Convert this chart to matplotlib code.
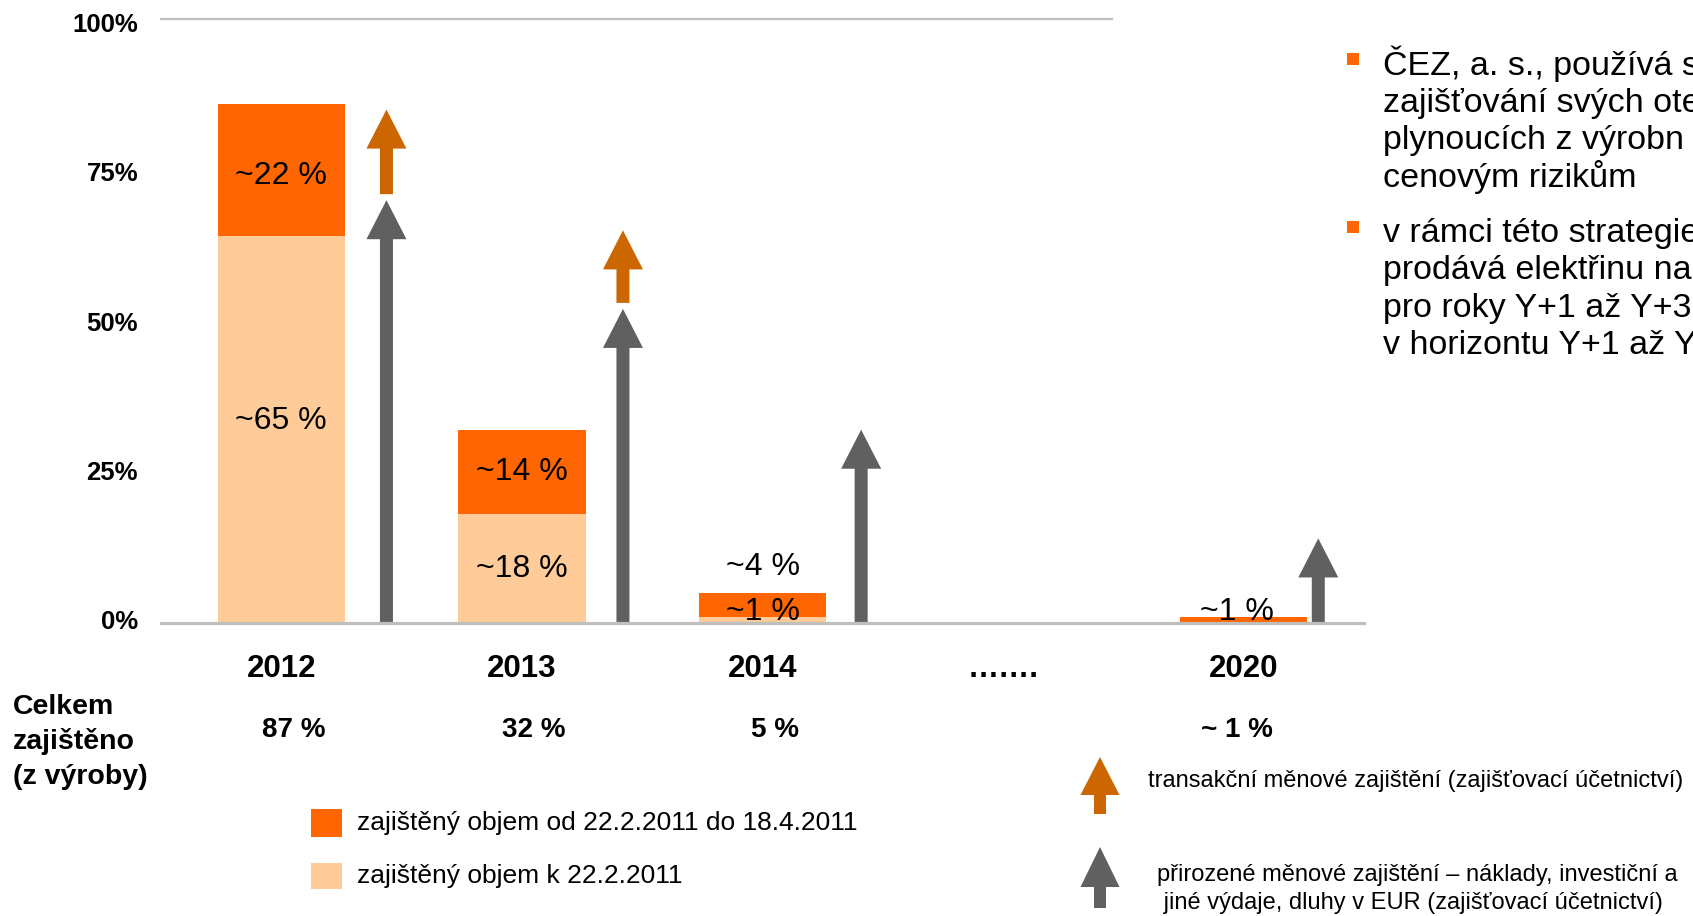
import numpy as np
import matplotlib
matplotlib.use('Agg')
import matplotlib.pyplot as plt
from matplotlib import font_manager
from matplotlib.patches import Polygon, Rectangle

# ---------------- data ----------------
categories = ['2012', '2013', '2014', '…….', '2020']
hedged_base = [64, 18, 1, np.nan, 0]      # zajištěný objem k 22.2.2011 (%)
hedged_new = [22, 14, 4, np.nan, 1]       # zajištěný objem od 22.2.2011 do 18.4.2011 (%)
base_labels = ['~65 %', '~18 %', '~1 %', '', '']
new_labels = ['~22 %', '~14 %', '~4 %', '', '~1 %']
total_labels = ['87 %', '32 %', '5 %', '', '~ 1 %']
fx_transaction_from = [71, 53, np.nan, np.nan, np.nan]
fx_transaction_to = [85, 65, np.nan, np.nan, np.nan]
fx_natural_to = [70, 52, 32, np.nan, 14]
ytick_values = [0, 25, 50, 75, 100]
ytick_labels = ['0%', '25%', '50%', '75%', '100%']

legend_labels = ['zajištěný objem od 22.2.2011 do 18.4.2011', 'zajištěný objem k 22.2.2011']
arrow_legend_1 = 'transakční měnové zajištění (zajišťovací účetnictví)'
arrow_legend_2 = ['přirozené měnové zajištění – náklady, investiční a',
                  ' jiné výdaje, dluhy v EUR (zajišťovací účetnictví)']
bullet_1 = ['ČEZ, a. s., používá s', 'zajišťování svých ote', 'plynoucích z výrobn', 'cenovým rizikům']
bullet_2 = ['v rámci této strategie', 'prodává elektřinu na', 'pro roky Y+1 až Y+3', 'v horizontu Y+1 až Y']
row_title = ['Celkem', 'zajištěno', '(z výroby)']

# ---------------- style ----------------
C_DARK = '#FF6600'
C_LIGHT = '#FFCC99'
C_ARROW_O = '#CC6600'
C_ARROW_G = '#606060'
C_GRID = '#BFBFBF'

names = {f.name for f in font_manager.fontManager.ttflist}
REG = 'Liberation Sans' if 'Liberation Sans' in names else 'DejaVu Sans'
NARROW = 'Liberation Sans Narrow' if 'Liberation Sans Narrow' in names else REG

W, H = 1693, 916
fig = plt.figure(figsize=(W / 100, H / 100), dpi=100)
fig.patch.set_facecolor('white')

# main axes: x from px 161 to 1364, y from px 623 (0%) to 19 (100%)
ax = fig.add_axes([161 / W, 1 - 623 / H, (1364 - 161) / W, (623 - 19) / H])
ax.set_xlim(-0.5, 4.5)
ax.set_ylim(0, 100)
for s in ax.spines.values():
    s.set_visible(False)

x = np.arange(len(categories))
bw = 0.53
base = np.array(hedged_base, dtype=float)
new = np.array(hedged_new, dtype=float)
ax.bar(x, base, width=bw, color=C_LIGHT, zorder=2)
ax.bar(x, new, bottom=base, width=bw, color=C_DARK, zorder=2)

# segment labels
for i in range(len(categories)):
    if np.isnan(base[i]):
        continue
    if base_labels[i]:
        y = base[i] / 2 + (1.5 if base[i] > 40 else 0) if base[i] >= 6 else 1.8
        ax.text(x[i], y, base_labels[i], ha='center', va='center', fontsize=23,
                family=REG, zorder=5)
    if new_labels[i]:
        if new[i] >= 6:
            y = base[i] + new[i] / 2 - (1.0 if new[i] > 20 else 0)
        elif new[i] >= 3:
            y = base[i] + new[i] + 4.3
        else:
            y = 1.8
        dx = -0.03 if new[i] < 3 else 0.0
        ax.text(x[i] + dx, y, new_labels[i], ha='center', va='center', fontsize=23,
                family=REG, zorder=5)

# arrows
arrow_dx = [0.437, 0.42, 0.41, 0.0, 0.31]
shaft_w = 13 / 240.6
head_w = 40 / 240.6
head_l = 39 / 6.04
for i in range(len(categories)):
    if not np.isnan(fx_natural_to[i]):
        ax.arrow(x[i] + arrow_dx[i], 0, 0, fx_natural_to[i], width=shaft_w,
                 head_width=head_w, head_length=head_l, length_includes_head=True,
                 color=C_ARROW_G, lw=0, zorder=3)
    if not np.isnan(fx_transaction_to[i]):
        ax.arrow(x[i] + arrow_dx[i], fx_transaction_from[i], 0,
                 fx_transaction_to[i] - fx_transaction_from[i], width=shaft_w,
                 head_width=head_w, head_length=head_l, length_includes_head=True,
                 color=C_ARROW_O, lw=0, zorder=3)

# gridline at 100% and baseline
ax.axhline(100, xmin=0, xmax=(1112 - 161) / (1364 - 161), color=C_GRID, lw=1.6,
           zorder=1, clip_on=False)
ax.axhline(0, color=C_GRID, lw=2.3, zorder=4, clip_on=False)

# y tick labels (drawn as text so they can sit slightly lower, as in the original)
ax.set_yticks([])
ylab_shift_px = [-1, 1, 3, 4.5, 6.5]
ytrans = matplotlib.transforms.blended_transform_factory(ax.transAxes, ax.transData)
for v, lab, d in zip(ytick_values, ytick_labels, ylab_shift_px):
    ax.text((138 - 161) / (1364 - 161), v - d / 6.04, lab, transform=ytrans,
            ha='right', va='center', fontsize=18.5, fontweight='bold', family=NARROW,
            clip_on=False)

ax.set_xticks(x)
ax.set_xticklabels(categories, fontsize=22.5, fontweight='bold', family=NARROW)
ax.tick_params(axis='x', length=0, pad=22)

# totals row
for i, t in enumerate(total_labels):
    if t:
        ax.text(x[i] + (0.05 if i < 3 else -0.03), -17.7, t,
                ha='center', va='center', fontsize=20, fontweight='bold',
                family=NARROW, clip_on=False)

# ---------------- overlay in pixel coordinates ----------------
ov = fig.add_axes([0, 0, 1, 1])
ov.set_xlim(0, W)
ov.set_ylim(H, 0)
ov.axis('off')
ov.set_facecolor('none')

for k, line in enumerate(row_title):
    ov.text(13, 714 + k * 35, line, ha='left', va='baseline', fontsize=20.5,
            fontweight='bold', family=NARROW)

# legend squares
ov.add_patch(Rectangle((311, 809), 31, 28, color=C_DARK, lw=0))
ov.add_patch(Rectangle((311, 863), 31, 26, color=C_LIGHT, lw=0))
ov.text(357, 830, legend_labels[0], ha='left', va='baseline', fontsize=19, family=REG)
ov.text(357, 883, legend_labels[1], ha='left', va='baseline', fontsize=19, family=REG)


def px_arrow(cx, tip, hbase, bottom, hw, sw, color):
    pts = [(cx, tip), (cx + hw / 2, hbase), (cx + sw / 2, hbase), (cx + sw / 2, bottom),
           (cx - sw / 2, bottom), (cx - sw / 2, hbase), (cx - hw / 2, hbase)]
    ov.add_patch(Polygon(pts, closed=True, color=color, lw=0))


px_arrow(1100, 757, 795, 814, 39, 12, C_ARROW_O)
px_arrow(1100, 847, 887, 908, 39, 12, C_ARROW_G)
ov.text(1148, 787, arrow_legend_1, ha='left', va='baseline', fontsize=17, family=REG)
ov.text(1157, 881, arrow_legend_2[0], ha='left', va='baseline', fontsize=17, family=REG)
ov.text(1157, 909, arrow_legend_2[1], ha='left', va='baseline', fontsize=17, family=REG)

# bullets on the right
ov.add_patch(Rectangle((1347, 53), 12, 12, color=C_DARK, lw=0))
ov.add_patch(Rectangle((1347, 221), 12, 12, color=C_DARK, lw=0))
for k, line in enumerate(bullet_1):
    ov.text(1383, 75 + k * 37.2, line, ha='left', va='baseline', fontsize=24.5, family=REG)
for k, line in enumerate(bullet_2):
    ov.text(1383, 242 + k * 37.5, line, ha='left', va='baseline', fontsize=24.5, family=REG)

fig.savefig('out.png', dpi=100, facecolor='white')
